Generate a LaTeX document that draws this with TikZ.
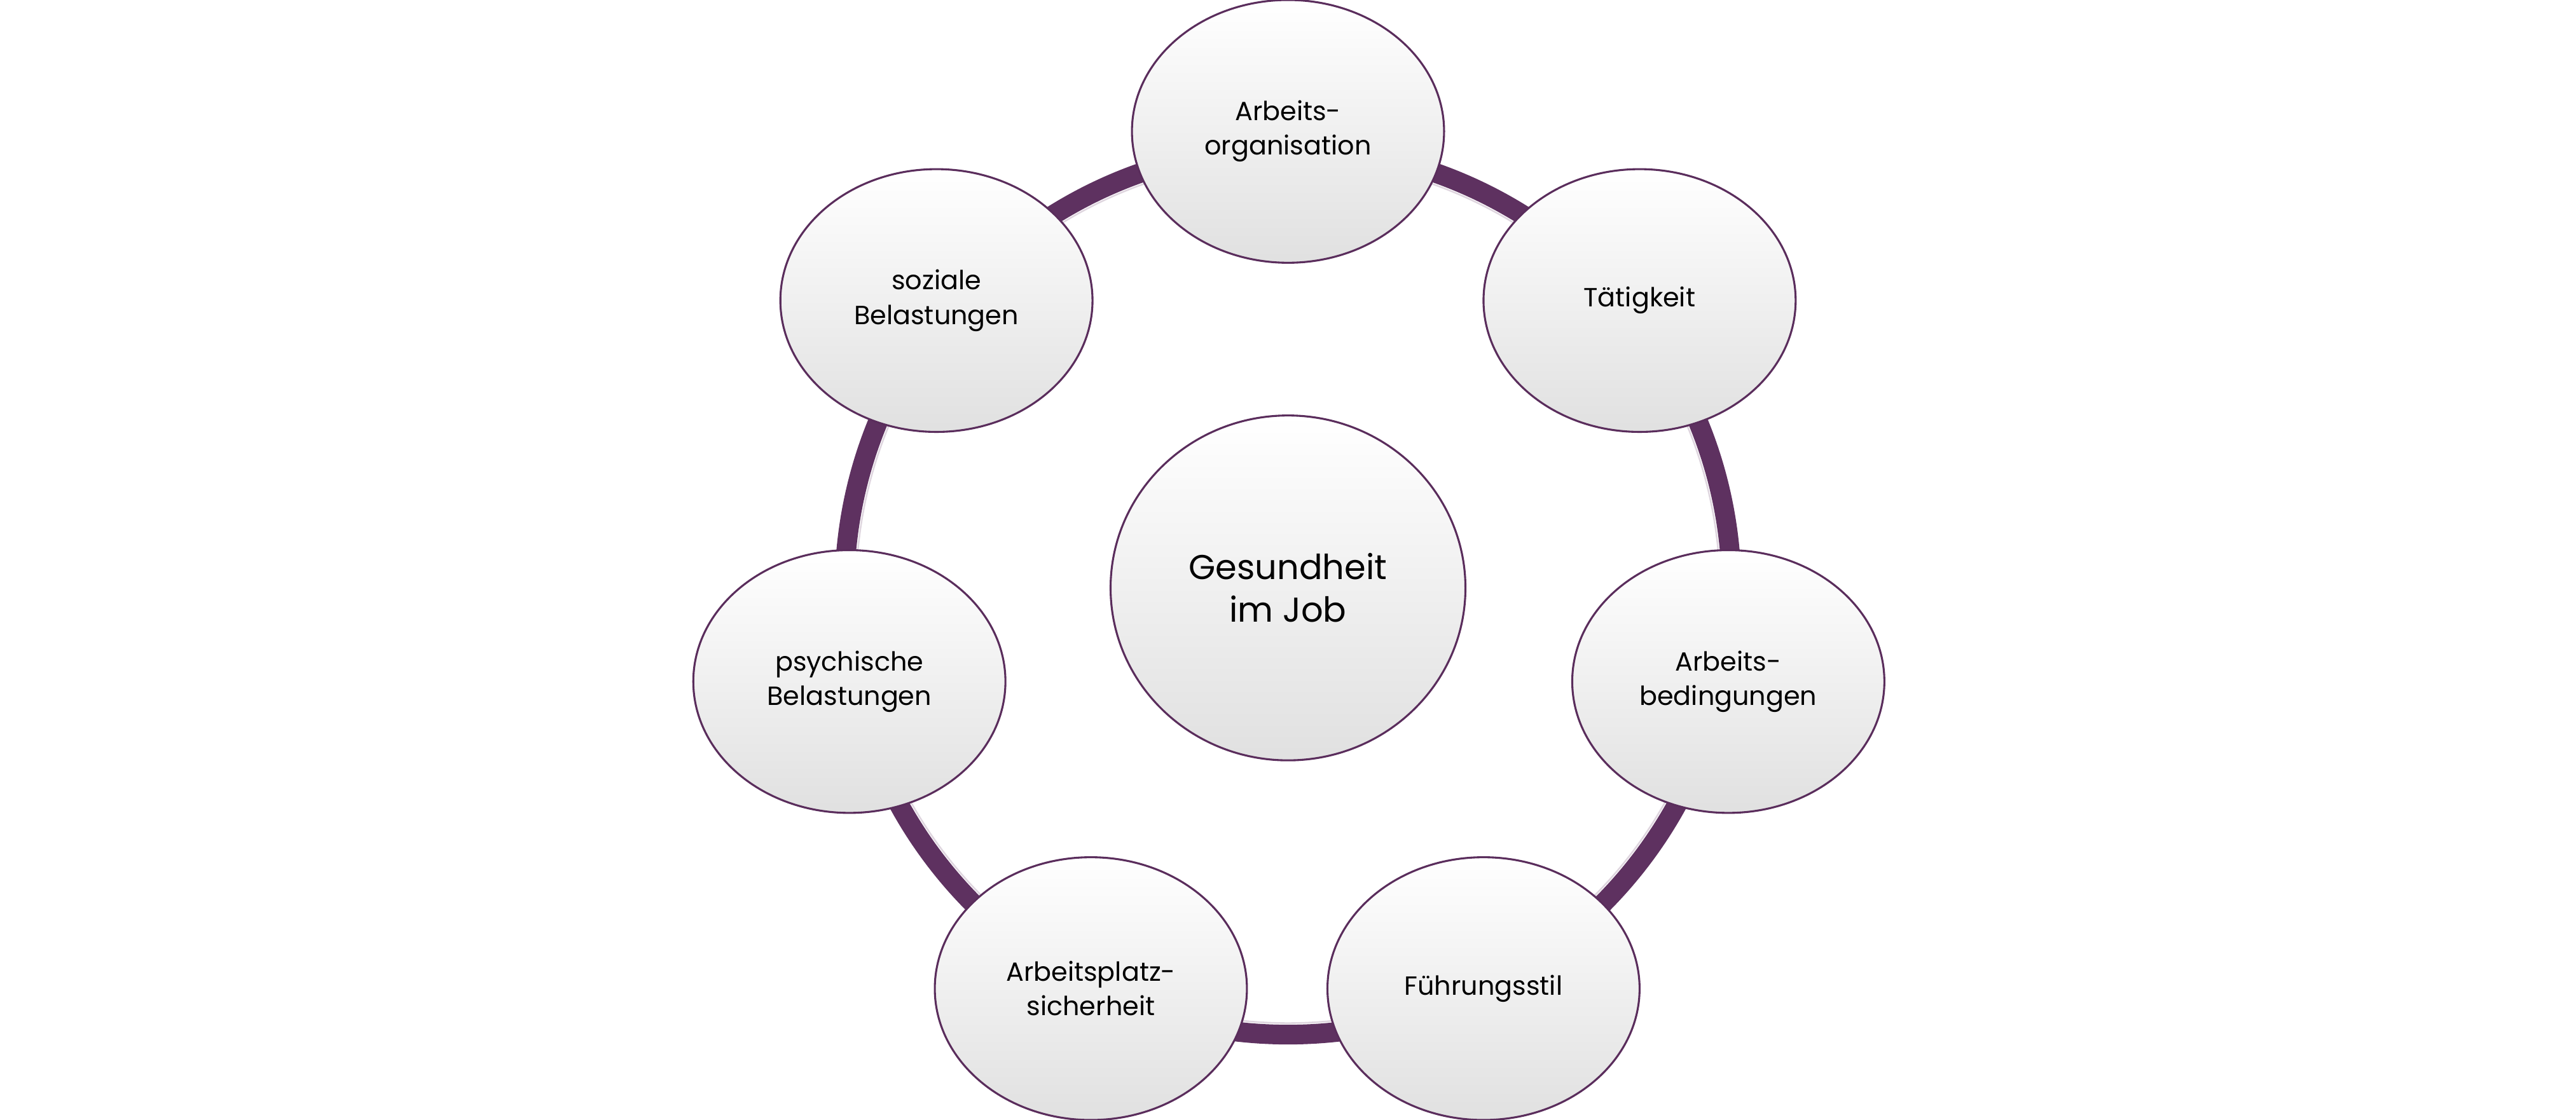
\documentclass[tikz,border=0pt]{standalone}
\usepackage{fontspec}
\setmainfont{Poppins}
\usetikzlibrary{shapes.geometric}
\definecolor{ringc}{HTML}{5E3160}
\definecolor{edgec}{HTML}{5A2D5C}
\tikzset{
  bubble/.style={ellipse, draw=edgec, line width=1.2pt, minimum width=190pt, minimum height=160pt,
    top color=white, bottom color=black!12, align=center, font=\fontsize{16}{21}\selectfont, inner sep=0pt},
  core/.style={bubble, minimum width=216pt, minimum height=210pt, font=\fontsize{21}{26}\selectfont}
}
\begin{document}
\begin{tikzpicture}[x=1pt,y=-1pt]
\useasboundingbox (0,0) rectangle (1568,682);
\draw[ringc, line width=12pt] (784,360) circle[radius=270];
\draw[white!80!ringc, line width=1pt] (784,360) circle[radius=263];
\node[core] (c) at (784,358) {Gesundheit\\im Job};
\node[bubble] (a) at (784,80) {Arbeits-\\organisation};
\node[bubble] (t) at (998,183) {Tätigkeit};
\node[bubble] (b) at (1052,415) {Arbeits-\\bedingungen};
\node[bubble] (f) at (903,602) {Führungsstil};
\node[bubble] (s) at (664,602) {Arbeitsplatz-\\sicherheit};
\node[bubble] (p) at (517,415) {psychische\\Belastungen};
\node[bubble] (z) at (570,183) {soziale\\Belastungen};
\end{tikzpicture}
\end{document}
